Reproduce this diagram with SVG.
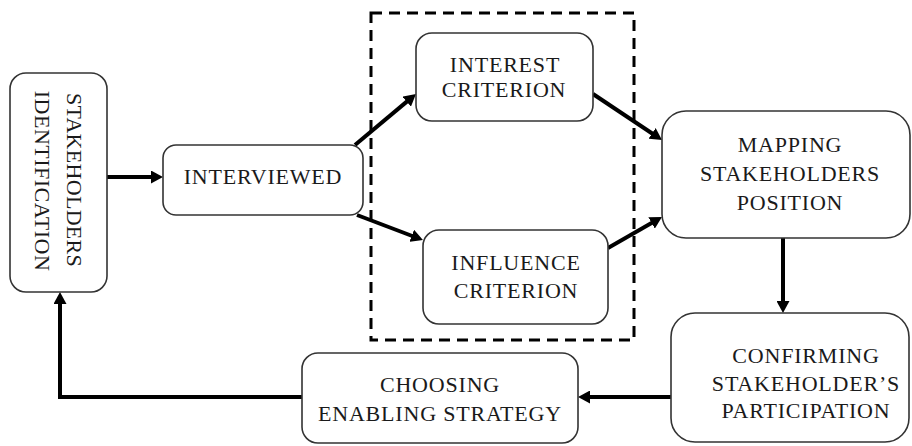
<svg xmlns="http://www.w3.org/2000/svg" width="912" height="446" viewBox="0 0 912 446">
<defs>
<style>
.node rect{fill:#fff;stroke:#333;stroke-width:1.6}
.node text{font-family:"Liberation Serif","Times New Roman",serif;font-size:22px;letter-spacing:0.8px;fill:#1a1a1a;text-anchor:middle}
.conn{fill:none;stroke:#000;stroke-width:4;stroke-linejoin:miter;marker-end:url(#ah)}
.dash{fill:none;stroke:#000;stroke-width:3;stroke-dasharray:11 7}
</style>
<marker id="ah" markerUnits="userSpaceOnUse" markerWidth="12" markerHeight="13" refX="2" refY="6.5" orient="auto">
<path d="M0,0 L12,6.5 L0,13 z" fill="#000"/>
</marker>
</defs>
<rect width="912" height="446" fill="#fff"/>
<rect class="dash" x="371" y="13" width="263" height="327"/>
<g id="connectors">
<path class="conn" d="M107,177 L153,177"/>
<path class="conn" d="M355,145 L408.3,100.4"/>
<path class="conn" d="M357,215 L413.6,236.5"/>
<path class="conn" d="M593,94 L653.7,134.5"/>
<path class="conn" d="M608,248 L653.3,222"/>
<path class="conn" d="M783,238 L783,303"/>
<path class="conn" d="M671,397 L588,397"/>
<path class="conn" d="M302,397 L60,397 L60,302"/>
</g>
<g id="n1" class="node">
<rect x="10" y="73" width="97" height="219" rx="16"/>
<text transform="translate(67,180) rotate(90)" style="letter-spacing:0.3px">STAKEHOLDERS</text>
<text transform="translate(35,181) rotate(90)" style="letter-spacing:0.5px">IDENTIFICATION</text>
</g>
<g id="n2" class="node">
<rect x="163" y="145" width="200" height="70" rx="13"/>
<text x="263" y="184">INTERVIEWED</text>
</g>
<g id="n3" class="node">
<rect x="416" y="33" width="177" height="88" rx="16"/>
<text x="505" y="72">INTEREST</text>
<text x="504" y="97">CRITERION</text>
</g>
<g id="n4" class="node">
<rect x="423" y="230" width="185" height="94" rx="16"/>
<text x="516" y="270">INFLUENCE</text>
<text x="516" y="298">CRITERION</text>
</g>
<g id="n5" class="node">
<rect x="662" y="111" width="248" height="127" rx="24"/>
<text x="790" y="152">MAPPING</text>
<text x="790" y="181">STAKEHOLDERS</text>
<text x="790" y="210">POSITION</text>
</g>
<g id="n6" class="node">
<rect x="671" y="313" width="238" height="129" rx="24"/>
<text x="806" y="363">CONFIRMING</text>
<text x="806" y="391">STAKEHOLDER’S</text>
<text x="806" y="418">PARTICIPATION</text>
</g>
<g id="n7" class="node">
<rect x="302" y="353" width="276" height="90" rx="16"/>
<text x="440" y="392">CHOOSING</text>
<text x="440" y="421">ENABLING STRATEGY</text>
</g>
</svg>
